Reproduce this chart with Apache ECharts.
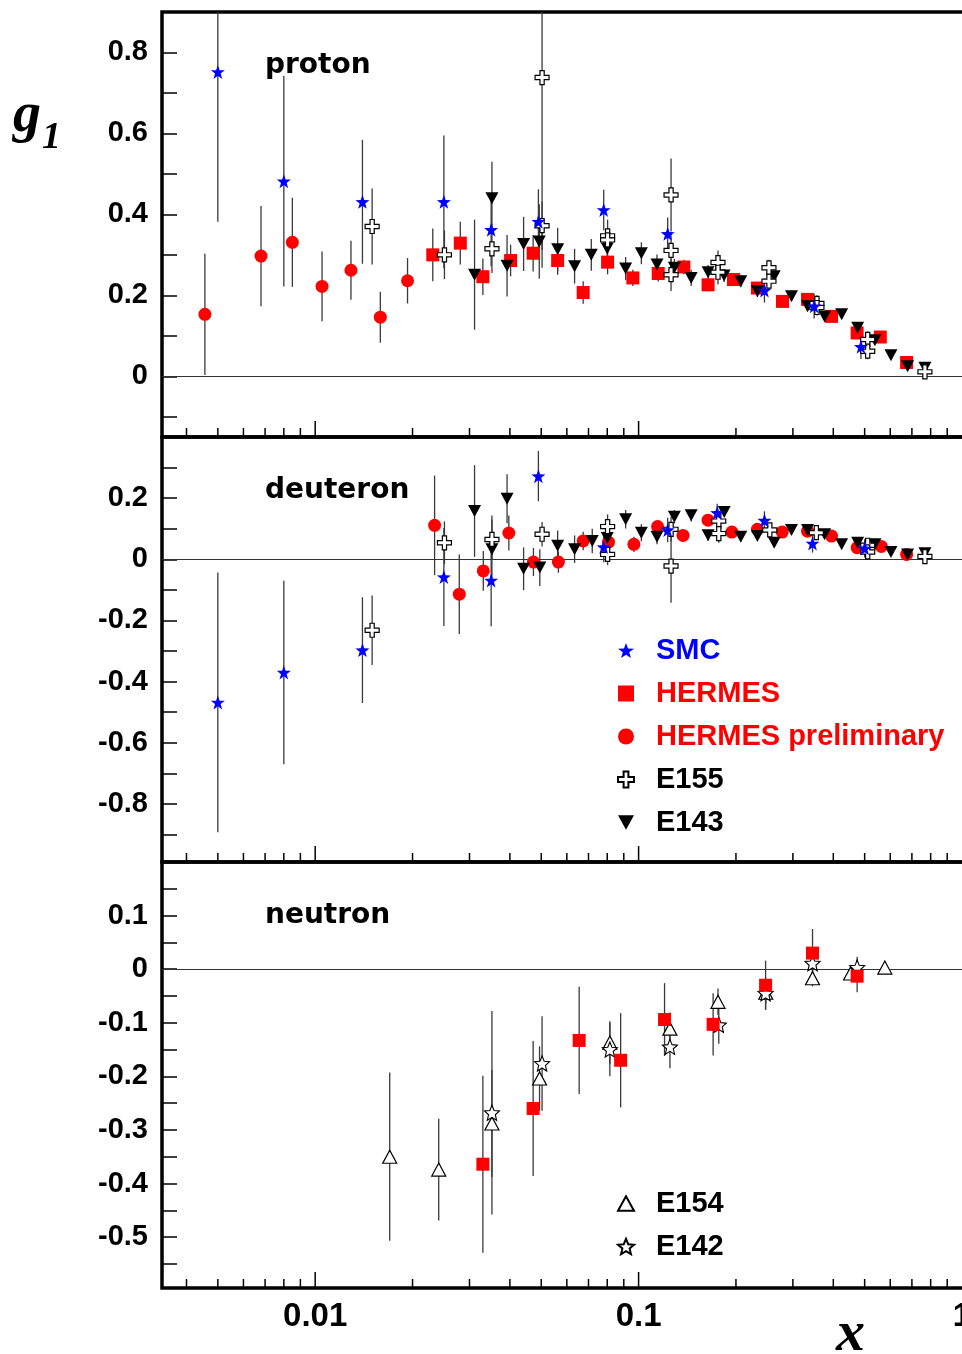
<!DOCTYPE html>
<html><head><meta charset="utf-8">
<script src="https://cdn.jsdelivr.net/npm/echarts@6/dist/echarts.min.js"></script>
<style>html,body{margin:0;padding:0;background:#fff}#c{width:962px;height:1354px}</style>
</head><body><div id="c"></div>
<script>
// ---------- DATA: [x, g1, error] ----------
// proton
const smcP = [[0.005,0.752,0.37],[0.008,0.482,0.26],[0.014,0.431,0.153],[0.025,0.431,0.164],[0.035,0.362,0.09],[0.049,0.382,0.08],[0.078,0.411,0.05],[0.123,0.352,0.04],[0.245,0.212,0.03],[0.349,0.173,0.03],[0.487,0.073,0.03]];
const hermesPrelimP = [[0.00456,0.153,0.15],[0.0068,0.297,0.124],[0.0085,0.331,0.11],[0.0105,0.222,0.086],[0.0129,0.262,0.073],[0.0159,0.146,0.063],[0.0193,0.236,0.056]];
const hermesP = [[0.0231,0.30,0.065],[0.0281,0.329,0.053],[0.033,0.246,0.045],[0.0402,0.286,0.039],[0.0472,0.304,0.045],[0.0562,0.286,0.035],[0.0674,0.207,0.028],[0.0802,0.282,0.03],[0.096,0.243,0.02],[0.115,0.254,0.02],[0.138,0.27,0.018],[0.164,0.226,0.016],[0.1965,0.239,0.015],[0.233,0.218,0.014],[0.2786,0.185,0.012],[0.333,0.19,0.012],[0.395,0.148,0.01],[0.474,0.107,0.01],[0.559,0.097,0.008],[0.674,0.034,0.006]];
const e155P = [[0.015,0.370,0.094],[0.0251,0.30,0.06],[0.0352,0.315,0.06],[0.0503,0.738,0.47],[0.0503,0.372,0.06],[0.0802,0.347,0.04],[0.0802,0.337,0.03],[0.126,0.448,0.09],[0.126,0.311,0.045],[0.126,0.251,0.04],[0.176,0.281,0.03],[0.176,0.257,0.03],[0.253,0.268,0.02],[0.253,0.235,0.02],[0.356,0.18,0.02],[0.356,0.17,0.02],[0.511,0.091,0.02],[0.511,0.062,0.02],[0.768,0.011,0.01]];
const e143P = [[0.0311,0.251,0.136],[0.0352,0.44,0.09],[0.0392,0.273,0.076],[0.0441,0.327,0.067],[0.0493,0.333,0.092],[0.0562,0.314,0.053],[0.0634,0.272,0.043],[0.0714,0.30,0.039],[0.080,0.316,0.035],[0.0912,0.266,0.029],[0.102,0.304,0.027],[0.114,0.276,0.025],[0.129,0.268,0.022],[0.1454,0.243,0.02],[0.164,0.257,0.018],[0.1838,0.249,0.016],[0.207,0.235,0.015],[0.233,0.21,0.014],[0.2626,0.247,0.013],[0.297,0.198,0.012],[0.333,0.173,0.011],[0.376,0.148,0.01],[0.4245,0.153,0.01],[0.4757,0.12,0.009],[0.538,0.089,0.008],[0.603,0.052,0.007],[0.679,0.025,0.006],[0.768,0.021,0.005]];
// deuteron
const smcD = [[0.005,-0.468,0.425],[0.008,-0.37,0.30],[0.014,-0.297,0.173],[0.025,-0.058,0.16],[0.035,-0.069,0.15],[0.049,0.272,0.082],[0.078,0.04,0.05],[0.123,0.096,0.04],[0.175,0.152,0.03],[0.245,0.127,0.03],[0.345,0.052,0.03],[0.50,0.036,0.03]];
const hermesPrelimD = [[0.0234,0.111,0.163],[0.0279,-0.114,0.13],[0.0331,-0.038,0.065],[0.0397,0.086,0.057],[0.0473,-0.009,0.046],[0.0565,-0.009,0.035],[0.0674,0.06,0.03],[0.0807,0.056,0.028],[0.0967,0.049,0.025],[0.1145,0.107,0.022],[0.1372,0.078,0.02],[0.164,0.128,0.018],[0.1943,0.089,0.016],[0.233,0.098,0.015],[0.278,0.089,0.013],[0.333,0.092,0.012],[0.395,0.076,0.01],[0.474,0.038,0.01],[0.563,0.042,0.009],[0.674,0.016,0.008]];
const e155D = [[0.015,-0.232,0.114],[0.0251,0.054,0.07],[0.0352,0.065,0.065],[0.0503,0.082,0.04],[0.0802,0.107,0.04],[0.0802,0.016,0.035],[0.126,0.098,0.04],[0.126,-0.022,0.12],[0.177,0.125,0.03],[0.177,0.084,0.03],[0.2545,0.096,0.02],[0.3545,0.087,0.02],[0.511,0.046,0.015],[0.511,0.024,0.015],[0.768,0.009,0.01]];
const e143D = [[0.0311,0.158,0.15],[0.0352,0.033,0.11],[0.0392,0.198,0.08],[0.0441,-0.031,0.07],[0.0495,-0.027,0.06],[0.0562,0.044,0.05],[0.0634,0.033,0.045],[0.0719,0.06,0.04],[0.080,0.07,0.035],[0.0912,0.131,0.03],[0.102,0.087,0.028],[0.114,0.074,0.025],[0.129,0.139,0.022],[0.1454,0.144,0.02],[0.164,0.079,0.018],[0.184,0.155,0.016],[0.207,0.074,0.015],[0.233,0.076,0.014],[0.2626,0.054,0.013],[0.297,0.096,0.012],[0.333,0.096,0.011],[0.376,0.082,0.01],[0.4245,0.049,0.01],[0.4757,0.054,0.009],[0.538,0.049,0.008],[0.603,0.024,0.007],[0.679,0.016,0.006],[0.768,0.02,0.005]];
// neutron
const hermesN = [[0.033,-0.364,0.165],[0.0472,-0.26,0.126],[0.0655,-0.133,0.1],[0.088,-0.17,0.088],[0.1203,-0.094,0.068],[0.170,-0.103,0.058],[0.247,-0.03,0.046],[0.345,0.030,0.045],[0.474,-0.013,0.03]];
const e154N = [[0.017,-0.350,0.157],[0.0241,-0.374,0.095],[0.0352,-0.288,0.1],[0.0494,-0.204,0.06],[0.0815,-0.137,0.04],[0.125,-0.111,0.03],[0.176,-0.061,0.025],[0.2473,-0.044,0.02],[0.345,-0.017,0.015],[0.4524,-0.008,0.012],[0.5773,0.003,0.01]];
const e142N = [[0.0352,-0.268,0.19],[0.0503,-0.176,0.088],[0.0815,-0.150,0.05],[0.125,-0.145,0.04],[0.177,-0.104,0.035],[0.247,-0.045,0.03],[0.345,0.011,0.025],[0.474,0.003,0.02]];

// axis ticks / labels
const xMajorTicks = [0.01, 0.1];
const xMinorTicks = [0.004,0.005,0.006,0.007,0.008,0.009,0.02,0.03,0.04,0.05,0.06,0.07,0.08,0.09,0.2,0.3,0.4,0.5,0.6,0.7,0.8,0.9];
const xTickLabels = {'-2':'0.01','-1':'0.1','0':'1'};
const panelNames = ['proton','deuteron','neutron'];
const yRanges = [[-0.15,0.9],[-0.99,0.4],[-0.595,0.2]];
const yLabelStep = [0.2,0.2,0.1];
const ySplit = [10,14,16];
const xRange = [0.00336, 1.0216];

// ---------- symbols ----------
function starPath(inner){
  let d='';
  for(let i=0;i<10;i++){
    const r = i%2 ? inner : 1;
    const a = -Math.PI/2 + i*Math.PI/5;
    d += (i?'L':'M') + (50+50*r*Math.cos(a)).toFixed(2)+','+(50+50*r*Math.sin(a)).toFixed(2)+' ';
  }
  return 'path://'+d+'Z';
}
const SYM = {
  SMC: {symbol: starPath(0.4), size: 14, style:{color:'#0000ff', opacity:1}},
  HERMES: {symbol:'rect', size: 13, style:{color:'#ff0000', opacity:1}},
  'HERMES preliminary': {symbol:'circle', size: 13, style:{color:'#ff0000', opacity:1}},
  E155: {symbol:'path://M3.5,0 H6.5 V3.5 H10 V6.5 H6.5 V10 H3.5 V6.5 H0 V3.5 H3.5 Z', size: 14, style:{color:'#ffffff', borderColor:'#000', borderWidth:1.2, opacity:1}},
  E143: {symbol:'path://M0,0 L10,0 L5,9 Z', size:[13,12], style:{color:'#000', opacity:1}},
  E154: {symbol:'path://M5,0 L10,9 L0,9 Z', size:[14,13], style:{color:'#ffffff', borderColor:'#000', borderWidth:1.2, opacity:1}},
  E142: {symbol: starPath(0.45), size: 15, style:{color:'#ffffff', borderColor:'#000', borderWidth:1.1, opacity:1}}
};

const series = [];
function errRender(params, api){
  const x = api.value(0), y = api.value(1), e = api.value(2);
  const t = api.coord([x, y+e]), b = api.coord([x, y-e]);
  const cs = params.coordSys;
  const clamp = v => Math.max(cs.y, Math.min(cs.y+cs.height, v));
  return {type:'line', shape:{x1:t[0], y1:clamp(t[1]), x2:t[0], y2:clamp(b[1])},
          style:{stroke:'#3a3a3a', lineWidth:1.3}};
}
function addSet(p, name, data){
  const s = SYM[name];
  series.push({type:'custom', xAxisIndex:p, yAxisIndex:p, data:data, encode:{x:0,y:1},
               renderItem: errRender, z:3, silent:true, animation:false});
  series.push({type:'scatter', name:name, xAxisIndex:p, yAxisIndex:p, data:data, encode:{x:0,y:1},
               symbol:s.symbol, symbolSize:s.size, itemStyle:s.style, z:5, silent:true, animation:false});
}
function tickRender(len){
  return function(params, api){
    const cs = params.coordSys;
    const px = api.coord([api.value(0), 0])[0];
    const yb = cs.y + cs.height;
    return {type:'line', shape:{x1:px, y1:yb, x2:px, y2:yb-len}, style:{stroke:'#000', lineWidth:1.5}};
  };
}
for (let p=0;p<3;p++){
  series.push({type:'custom', xAxisIndex:p, yAxisIndex:p, data:xMinorTicks.map(v=>[v,0]), encode:{x:0,y:1},
    renderItem: tickRender(9), z:2, silent:true, animation:false,
    markLine:{silent:true, symbol:'none', animation:false, label:{show:false},
      lineStyle:{color:'#333', width:1.2, type:'solid'}, data:[{yAxis:0}]}});
  series.push({type:'custom', xAxisIndex:p, yAxisIndex:p, data:xMajorTicks.map(v=>[v,0]), encode:{x:0,y:1},
    renderItem: tickRender(16), z:2, silent:true, animation:false});
}
addSet(0,'HERMES preliminary',hermesPrelimP);
addSet(0,'HERMES',hermesP);
addSet(0,'E143',e143P);
addSet(0,'E155',e155P);
addSet(0,'SMC',smcP);
addSet(1,'HERMES preliminary',hermesPrelimD);
addSet(1,'E143',e143D);
addSet(1,'E155',e155D);
addSet(1,'SMC',smcD);
addSet(2,'E154',e154N);
addSet(2,'E142',e142N);
addSet(2,'HERMES',hermesN);

const grids = [], xAxes = [], yAxes = [];
const gridTops = [12, 437, 862], gridH = [425, 425, 426];
for (let p=0;p<3;p++){
  grids.push({left:162, top:gridTops[p], width:803, height:gridH[p], show:true,
    borderColor:'#000', borderWidth:3.5, backgroundColor:'transparent', containLabel:false, outerBoundsMode:'none'});
  xAxes.push({type:'log', logBase:10, gridIndex:p, min:xRange[0], max:xRange[1],
    axisLine:{show:false}, axisTick:{show:false}, splitLine:{show:false}, minorTick:{show:false},
    axisLabel:{show:p===2, margin:12, color:'#000', fontFamily:'"Liberation Sans Narrow","Liberation Sans",Arial,sans-serif',
      fontWeight:'bold', fontSize:33, showMinLabel:true, showMaxLabel:true,
      formatter: v => { const l=Math.log10(v), r=Math.round(l); if(Math.abs(l-r)>1e-6) return ''; return xTickLabels[String(r)]||''; }}});
  const step = yLabelStep[p];
  yAxes.push({type:'value', gridIndex:p, min:yRanges[p][0], max:yRanges[p][1], splitNumber:ySplit[p],
    axisLine:{show:false}, splitLine:{show:false},
    axisTick:{show:true, inside:true, length:15, lineStyle:{color:'#000', width:1.5}},
    axisLabel:{margin:14, color:'#000', fontFamily:'"Liberation Sans",Arial,sans-serif', fontWeight:'bold', fontSize:29,
      showMinLabel:false, showMaxLabel:false,
      formatter: v => { const k=v/step; if(Math.abs(k-Math.round(k))>1e-6) return ''; const r=Math.round(v*100)/100; return r===0?'0':String(r); }}});
}

const legendText = {fontFamily:'"Liberation Sans",Arial,sans-serif', fontWeight:'bold', fontSize:29, padding:[0,0,0,17]};
const option = {
  animation:false,
  backgroundColor:'#ffffff',
  grid: grids, xAxis: xAxes, yAxis: yAxes, series: series,
  legend:[
    {orient:'vertical', left:617, top:636, padding:0, itemGap:14, itemWidth:16, itemHeight:16, selectedMode:false,
     textStyle:legendText,
     data:[{name:'SMC', textStyle:{color:'#0000ff'}},{name:'HERMES', textStyle:{color:'#ff0000'}},
           {name:'HERMES preliminary', textStyle:{color:'#ff0000'}},{name:'E155', textStyle:{color:'#000'}},
           {name:'E143', textStyle:{color:'#000'}}]},
    {orient:'vertical', left:617, top:1189, padding:0, itemGap:14, itemWidth:16, itemHeight:16, selectedMode:false,
     textStyle:legendText,
     data:[{name:'E154', textStyle:{color:'#000'}},{name:'E142', textStyle:{color:'#000'}}]}
  ],
  graphic:[
    {type:'text', style:{x:265, y:66, verticalAlign:'middle', text:panelNames[0], font:'bold 28px "DejaVu Sans"', fill:'#000'}},
    {type:'text', style:{x:265, y:491, verticalAlign:'middle', text:panelNames[1], font:'bold 28px "DejaVu Sans"', fill:'#000'}},
    {type:'text', style:{x:265, y:916, verticalAlign:'middle', text:panelNames[2], font:'bold 28px "DejaVu Sans"', fill:'#000'}},
    {type:'text', style:{x:13, y:117, verticalAlign:'middle', text:'g', font:'italic bold 56px "Liberation Serif"', fill:'#000'}},
    {type:'text', style:{x:42, y:138, verticalAlign:'middle', text:'1', font:'italic bold 38px "Liberation Serif"', fill:'#000'}},
    {type:'text', style:{x:836, y:1335, verticalAlign:'middle', text:'x', font:'italic bold 58px "Liberation Serif"', fill:'#000'}}
  ]
};
const chart = echarts.init(document.getElementById('c'));
chart.setOption(option);
</script></body></html>
